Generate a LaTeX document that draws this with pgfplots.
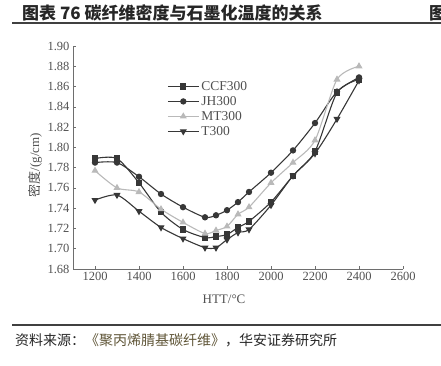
\documentclass[border=0pt]{standalone}
\usepackage{fontspec}
\setmainfont{Liberation Serif}
\newfontfamily\cjk{Noto Sans CJK SC}
\usepackage{pgfplots}
\pgfplotsset{compat=1.18}
\definecolor{dk}{RGB}{55,55,55}
\definecolor{lt}{RGB}{185,185,185}
\definecolor{ax}{RGB}{110,110,110}
\definecolor{lab}{RGB}{80,80,80}
\definecolor{src}{RGB}{95,85,55}
\begin{document}
\begin{tikzpicture}[x=1pt,y=1pt]
\path[use as bounding box] (0,0) rectangle (441,365);
\node[anchor=west, font=\cjk\bfseries\fontsize{17}{17}\selectfont, text=black!85, inner sep=0pt] at (22,352) {图表 76 碳纤维密度与石墨化温度的关系};
\node[anchor=west, font=\cjk\bfseries\fontsize{17}{17}\selectfont, text=black!85, inner sep=0pt] at (429,352) {图};
\draw[line width=1.2pt, black!75] (12,342) -- (441,342);
\draw[line width=1.2pt, black!75] (12,40) -- (441,40);
\node[anchor=west, font=\cjk\fontsize{14}{14}\selectfont, text=black!85, inner sep=0pt] at (15,25) {资料来源：{\color{src}《聚丙烯腈基碳纤维》}，华安证券研究所};
\node[rotate=90, font=\fontsize{13}{13}\selectfont, text=lab] at (35,200) {{\cjk 密度}/(g/cm)};
\node[font=\fontsize{13}{13}\selectfont, text=lab] at (224,66) {HTT/°C};
\begin{axis}[
  at={(73pt,96pt)}, anchor=south west, scale only axis,
  width=330pt, height=223pt,
  xmin=1100, xmax=2600, ymin=1.68, ymax=1.90,
  axis x line*=bottom, axis y line*=left,
  axis line style={ax, line width=0.6pt},
  xtick={1200,1400,...,2600},
  ytick={1.68,1.70,1.72,1.74,1.76,1.78,1.80,1.82,1.84,1.86,1.88,1.90},
  tick align=inside, major tick length=3pt,
  tick style={ax, line width=0.6pt},
  /pgf/number format/assume math mode=true,
  yticklabel style={/pgf/number format/.cd, fixed, fixed zerofill, precision=2},
  xticklabel style={/pgf/number format/.cd, set thousands separator={}},
  tick label style={font=\fontsize{12.5}{12.5}\selectfont, text=lab},
  legend style={at={(0.285,0.852)}, anchor=north west, draw=none, fill=none,
    font=\fontsize{13.5}{15}\selectfont, text=lab, row sep=0.5pt, inner sep=0pt},
  legend cell align=left,
  legend image code/.code={\draw[mark repeat=2,mark phase=2] plot coordinates {(0pt,0pt) (15.5pt,0pt) (31pt,0pt)};},
  every axis plot/.append style={line width=1.1pt, smooth, tension=0.45},
]
\addplot[dk, mark=square*, mark size=2.6pt, mark options={solid}] coordinates {
(1200,1.789) (1300,1.789) (1400,1.765) (1500,1.736) (1600,1.719) (1700,1.711) (1750,1.712) (1800,1.714) (1850,1.721) (1900,1.727) (2000,1.746) (2100,1.772) (2200,1.796) (2300,1.854) (2400,1.867)};
\addlegendentry{CCF300}
\addplot[dk, mark=*, mark size=2.6pt] coordinates {
(1200,1.785) (1300,1.785) (1400,1.771) (1500,1.754) (1600,1.741) (1700,1.731) (1750,1.733) (1800,1.738) (1850,1.746) (1900,1.756) (2000,1.775) (2100,1.797) (2200,1.824) (2300,1.855) (2400,1.869)};
\addlegendentry{JH300}
\addplot[lt, mark=triangle*, mark size=3pt] coordinates {
(1200,1.777) (1300,1.760) (1400,1.756) (1500,1.739) (1600,1.726) (1700,1.715) (1750,1.718) (1800,1.722) (1850,1.734) (1900,1.741) (2000,1.765) (2100,1.785) (2200,1.807) (2300,1.867) (2400,1.880)};
\addlegendentry{MT300}
\addplot[dk, mark=triangle*, mark size=3pt, mark options={rotate=180}] coordinates {
(1200,1.748) (1300,1.753) (1400,1.737) (1500,1.721) (1600,1.710) (1700,1.701) (1750,1.701) (1800,1.709) (1850,1.716) (1900,1.719) (2000,1.743) (2100,1.772) (2200,1.794) (2300,1.828) (2400,1.866)};
\addlegendentry{T300}
\end{axis}
\end{tikzpicture}
\end{document}
